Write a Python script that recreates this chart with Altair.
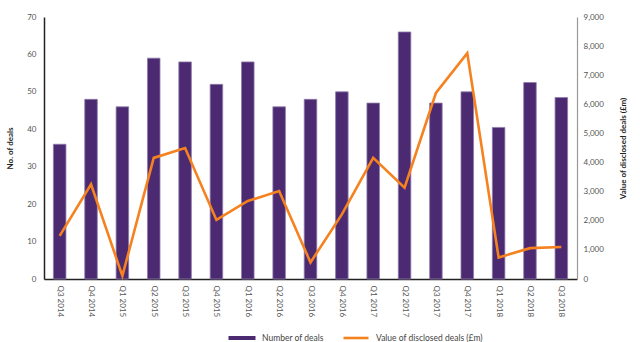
import altair as alt
import pandas as pd

quarters = ["Q3 2014", "Q4 2014", "Q1 2015", "Q2 2015", "Q3 2015", "Q4 2015",
            "Q1 2016", "Q2 2016", "Q3 2016", "Q4 2016", "Q1 2017", "Q2 2017",
            "Q3 2017", "Q4 2017", "Q1 2018", "Q2 2018", "Q3 2018"]
num_deals = [36, 48, 46, 59, 58, 52, 58, 46, 48, 50, 47, 66, 47, 50, 40.5, 52.5, 48.5]
deal_value = [1480, 3250, 110, 4160, 4500, 2030, 2680, 3020, 570, 2220, 4160, 3140,
              6390, 7760, 740, 1060, 1100]

df = pd.DataFrame({
    "quarter": quarters,
    "deals": num_deals,
    "value": deal_value,
    "s1": ["Number of deals"] * len(quarters),
    "s2": ["Value of disclosed deals (£m)"] * len(quarters),
})

FONT = "Lato"
PURPLE = "#4B2A72"
ORANGE = "#F5821F"

x = alt.X("quarter:N", sort=quarters, title=None,
          scale=alt.Scale(paddingInner=0.6, paddingOuter=0.3),
          axis=alt.Axis(labelAngle=90, labelFontSize=8, labelColor="#555555",
                        labelPadding=6, ticks=False, domainColor="#222222",
                        domainWidth=1.5, labelFont=FONT))

bars = alt.Chart(df).mark_bar(stroke="#8f7bab", strokeWidth=0.8).encode(
    x=x,
    y=alt.Y("deals:Q", title="No. of deals",
            scale=alt.Scale(domain=[0, 70], nice=False),
            axis=alt.Axis(values=[0, 10, 20, 30, 40, 50, 60, 70], grid=False,
                          ticks=False, labelFontSize=8, labelColor="#555555",
                          labelPadding=8, domainColor="#222222", domainWidth=1.5,
                          titleFontSize=8, titleFontWeight="bold", titleColor="#222222",
                          titlePadding=12, labelFont=FONT, titleFont=FONT)),
    color=alt.Color("s1:N", scale=alt.Scale(range=[PURPLE]), title=None,
                    legend=alt.Legend(orient="none", legendX=184, legendY=307,
                                      symbolType="M-1,-0.15H1V0.15H-1Z",
                                      symbolSize=730, symbolStrokeWidth=0,
                                      labelFontSize=8.5, labelColor="#444444",
                                      labelFont=FONT, labelOffset=6)),
)

line = alt.Chart(df).mark_line(color=ORANGE, strokeWidth=2.6).encode(
    x=x,
    y=alt.Y("value:Q", title="Value of disclosed deals (£m)",
            scale=alt.Scale(domain=[0, 9000], nice=False),
            axis=alt.Axis(orient="right", values=list(range(0, 9001, 1000)),
                          format=",.0f", grid=False, ticks=False, labelFontSize=8,
                          labelColor="#555555", labelPadding=6, domainColor="#999999",
                          domainWidth=1.2, titleFontSize=8, titleFontWeight="bold",
                          titleColor="#222222", titleAngle=270, titlePadding=24,
                          labelFont=FONT, titleFont=FONT)),
    stroke=alt.Stroke("s2:N", scale=alt.Scale(range=[ORANGE]), title=None,
                      legend=alt.Legend(orient="none", legendX=298, legendY=307,
                                        symbolType="stroke", symbolSize=625,
                                        symbolStrokeWidth=2.6,
                                        labelFontSize=8.5, labelColor="#444444",
                                        labelFont=FONT, labelOffset=6)),
)

chart = alt.layer(bars, line).resolve_scale(
    y="independent", color="independent", stroke="independent"
).properties(
    width=533, height=262,
    autosize=alt.AutoSizeParams(type="none"),
    padding={"left": 44, "top": 17, "right": 63, "bottom": 63},
    background="white",
).configure_view(stroke=None)

chart.save("out.html", embed_options={"renderer": "svg", "actions": False})
